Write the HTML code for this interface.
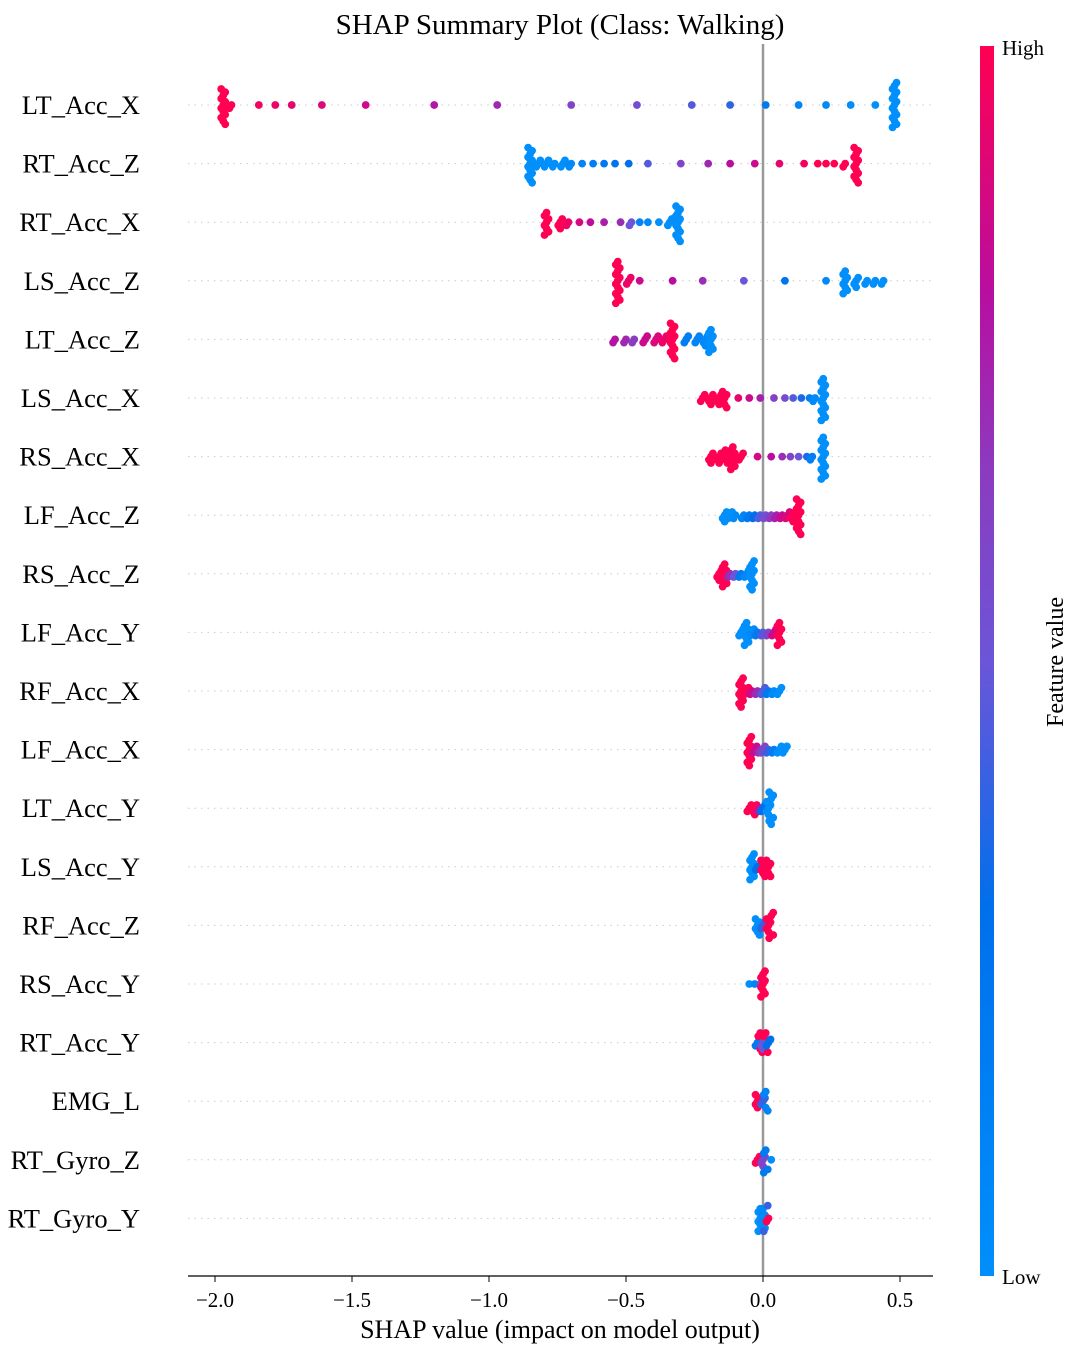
<!DOCTYPE html>
<html><head><meta charset="utf-8"><style>
html,body{margin:0;padding:0;background:#fff;}
svg{display:block;font-family:"Liberation Serif",serif;}
</style></head><body>
<svg id="chart" width="1075" height="1355" viewBox="0 0 1075 1355" xmlns="http://www.w3.org/2000/svg">
<defs>
<linearGradient id="cbar" x1="0" y1="1" x2="0" y2="0">
<stop offset="0" stop-color="#008ffb"/><stop offset="0.3" stop-color="#006fec"/>
<stop offset="0.5" stop-color="#6c55d8"/><stop offset="0.65" stop-color="#8a3cc0"/>
<stop offset="0.8" stop-color="#b80ea0"/><stop offset="1" stop-color="#ff0052"/>
</linearGradient>
</defs>
<text x="560" y="34" font-size="29" text-anchor="middle">SHAP Summary Plot (Class: Walking)</text>
<g id="grid"></g>
<line x1="763" y1="44" x2="763" y2="1276" stroke="#999" stroke-width="2.5"/>
<g id="dots"></g>
<g id="labels"></g>
<line x1="188" y1="1276" x2="933" y2="1276" stroke="#000" stroke-width="1.3"/>
<g id="xticks"></g>
<text x="560" y="1338" font-size="26" text-anchor="middle">SHAP value (impact on model output)</text>
<rect x="980" y="46" width="14" height="1230" fill="url(#cbar)"/>
<text x="1002" y="55" font-size="21">High</text>
<text x="1002" y="1284" font-size="21">Low</text>
<text transform="translate(1063,662) rotate(-90)" font-size="24" text-anchor="middle">Feature value</text>
</svg>
<script>
const features = ["LT_Acc_X","RT_Acc_Z","RT_Acc_X","LS_Acc_Z","LT_Acc_Z","LS_Acc_X","RS_Acc_X","LF_Acc_Z","RS_Acc_Z","LF_Acc_Y","RF_Acc_X","LF_Acc_X","LT_Acc_Y","LS_Acc_Y","RF_Acc_Z","RS_Acc_Y","RT_Acc_Y","EMG_L","RT_Gyro_Z","RT_Gyro_Y"];
// points: [shap, featureValue(0..1), count]
const shapLT_Acc_X = [[-1.97,1,12],[-1.94,1,2],[-1.84,0.96,1],[-1.78,0.94,1],[-1.72,0.92,1],[-1.61,0.9,1],[-1.45,0.86,1],[-1.2,0.78,1],[-0.97,0.72,1],[-0.7,0.6,1],[-0.46,0.55,1],[-0.26,0.45,1],[-0.12,0.38,1],[0.01,0.2,1],[0.13,0.1,1],[0.23,0.05,1],[0.32,0.03,1],[0.41,0,1],[0.48,0,15]];
const shapRT_Acc_Z = [[-0.85,0,12],[-0.82,0,3],[-0.79,0,3],[-0.76,0,2],[-0.73,0,3],[-0.7,0.05,2],[-0.66,0.1,1],[-0.62,0.15,1],[-0.58,0.2,1],[-0.54,0.25,1],[-0.49,0.3,1],[-0.42,0.45,1],[-0.3,0.6,1],[-0.2,0.72,1],[-0.12,0.8,1],[-0.03,0.85,1],[0.06,0.92,1],[0.15,0.97,1],[0.2,1,1],[0.23,1,1],[0.26,1,1],[0.3,1,2],[0.34,1,12]];
const shapRT_Acc_X = [[-0.79,1,8],[-0.74,1,4],[-0.71,0.95,2],[-0.67,0.88,1],[-0.63,0.82,1],[-0.58,0.75,1],[-0.52,0.7,1],[-0.48,0.5,2],[-0.45,0.1,1],[-0.42,0.05,1],[-0.38,0,1],[-0.34,0,3],[-0.31,0,12]];
const shapLS_Acc_Z = [[-0.53,1,14],[-0.49,0.95,3],[-0.45,0.85,1],[-0.33,0.8,1],[-0.22,0.7,1],[-0.07,0.5,1],[0.08,0.25,1],[0.23,0.05,1],[0.3,0,8],[0.34,0,4],[0.38,0,2],[0.41,0,2],[0.44,0,2]];
const shapLT_Acc_Z = [[-0.54,0.78,2],[-0.5,0.72,2],[-0.47,0.65,2],[-0.43,0.85,3],[-0.39,0.9,3],[-0.36,0.95,3],[-0.33,1,12],[-0.28,0.15,3],[-0.24,0.1,3],[-0.21,0.05,4],[-0.19,0,8]];
const shapLS_Acc_X = [[-0.22,1,3],[-0.19,1,4],[-0.16,1,4],[-0.14,1,6],[-0.09,0.92,1],[-0.05,0.85,1],[-0.01,0.75,1],[0.04,0.62,1],[0.08,0.55,1],[0.11,0.45,1],[0.14,0.35,1],[0.17,0.15,1],[0.19,0.05,2],[0.22,0,14]];
const shapRS_Acc_X = [[-0.19,1,4],[-0.16,1,4],[-0.13,1,5],[-0.11,1,8],[-0.08,1,3],[-0.02,0.88,1],[0.03,0.8,1],[0.07,0.7,1],[0.1,0.6,1],[0.13,0.5,1],[0.16,0.35,1],[0.18,0.15,2],[0.22,0,14]];
const shapLF_Acc_Z = [[-0.14,0,4],[-0.12,0,3],[-0.1,0.05,2],[-0.07,0.1,2],[-0.05,0.2,2],[-0.03,0.3,2],[-0.01,0.45,2],[0.01,0.55,2],[0.03,0.65,2],[0.05,0.75,2],[0.07,0.85,2],[0.09,0.9,3],[0.11,1,4],[0.13,1,12]];
const shapRS_Acc_Z = [[-0.16,1,4],[-0.14,1,8],[-0.12,0.7,2],[-0.1,0.5,2],[-0.08,0.2,2],[-0.06,0.05,3],[-0.04,0,10]];
const shapLF_Acc_Y = [[-0.08,0,3],[-0.06,0,8],[-0.04,0.05,3],[-0.02,0.2,2],[0.0,0.45,2],[0.02,0.6,2],[0.04,0.85,3],[0.06,1,8]];
const shapRF_Acc_X = [[-0.08,1,10],[-0.06,1,3],[-0.04,0.85,2],[-0.02,0.7,2],[0.0,0.45,3],[0.02,0.2,2],[0.04,0.05,2],[0.06,0,3]];
const shapLF_Acc_X = [[-0.05,1,10],[-0.03,0.85,3],[-0.01,0.7,2],[0.0,0.6,3],[0.02,0.4,2],[0.04,0.15,2],[0.06,0,3],[0.08,0,3]];
const shapLT_Acc_Y = [[-0.05,1,3],[-0.03,1,4],[-0.01,0.75,2],[0.0,0.3,3],[0.02,0,5],[0.03,0,6]];
const shapLS_Acc_Y = [[-0.04,0,9],[-0.02,0.3,2],[0.0,1,6],[0.02,1,6]];
const shapRF_Acc_Z = [[-0.02,0,6],[0.0,0.4,3],[0.02,1,5],[0.03,1,4]];
const shapRS_Acc_Y = [[-0.05,0,1],[-0.03,0.1,1],[-0.01,0.5,1],[0.0,1,9]];
const shapRT_Acc_Y = [[-0.02,0.2,3],[-0.01,1,4],[0.0,0.5,4],[0.01,1,3],[0.02,0.3,3]];
const shapEMG_L = [[-0.02,1,5],[0.0,0.4,3],[0.01,0.1,4]];
const shapRT_Gyro_Z = [[-0.02,1,3],[0.0,0.6,4],[0.01,0.2,4],[0.03,0,1]];
const shapRT_Gyro_Y = [[-0.01,0,8],[0.0,0.05,7],[0.01,0.4,2],[0.02,1,2]];
const series = [shapLT_Acc_X,shapRT_Acc_Z,shapRT_Acc_X,shapLS_Acc_Z,shapLT_Acc_Z,shapLS_Acc_X,shapRS_Acc_X,shapLF_Acc_Z,shapRS_Acc_Z,shapLF_Acc_Y,shapRF_Acc_X,shapLF_Acc_X,shapLT_Acc_Y,shapLS_Acc_Y,shapRF_Acc_Z,shapRS_Acc_Y,shapRT_Acc_Y,shapEMG_L,shapRT_Gyro_Z,shapRT_Gyro_Y];
const xTicks = [-2.0,-1.5,-1.0,-0.5,0.0,0.5];
const xTickLabels = ["\u22122.0","\u22121.5","\u22121.0","\u22120.5","0.0","0.5"];

const NS="http://www.w3.org/2000/svg";
const xScale = v => 763 + v*274;
const yScale = i => 105 + i*58.6;
const stops=[[0,[0,143,251]],[0.3,[0,111,236]],[0.5,[108,85,216]],[0.65,[138,60,192]],[0.8,[184,14,160]],[1,[255,0,82]]];
function color(t){for(let k=1;k<stops.length;k++){if(t<=stops[k][0]){const a=stops[k-1],b=stops[k],f=(t-a[0])/(b[0]-a[0]);const c=a[1].map((x,j)=>Math.round(x+(b[1][j]-x)*f));return `rgb(${c})`;}}return "rgb(255,0,82)";}
function mk(tag,attrs,parent){const e=document.createElementNS(NS,tag);for(const k in attrs)e.setAttribute(k,attrs[k]);parent.appendChild(e);return e;}
const grid=document.getElementById('grid'),dots=document.getElementById('dots'),labels=document.getElementById('labels'),xt=document.getElementById('xticks');
features.forEach((f,i)=>{
  const y=yScale(i);
  const g=mk('line',{x1:188,x2:933,y1:y,y2:y,stroke:'#ccc','stroke-width':1,'stroke-dasharray':'1.5 5'},grid);
  
  
  const t=mk('text',{x:140,y:y+9,'font-size':26.5,'text-anchor':'end'},labels);
  t.textContent=f;
  
  
  const bins={};
  const grp=mk('g',{},dots);
  
  
  series[i].forEach(p=>{
    const px=xScale(p[0]);const b=Math.round(px/5);
    for(let n=0;n<p[2];n++){
      const j=bins[b]||0;bins[b]=j+1;
      const off=(j===0?0:(j%2?1:-1)*Math.ceil(j/2))*3.2;
      const dx=(j%3===1?-2:(j%3===2?2:0));
      const c=mk('circle',{cx:px+dx,cy:y+off,r:3.9,fill:color(p[1])},grp);
      
      
    }
  });
});
xTicks.forEach((v,k)=>{
  const x=xScale(v);
  const l=mk('line',{x1:x,x2:x,y1:1276,y2:1282,stroke:'#000','stroke-width':1},xt);
  
  
  const t=mk('text',{x:x,y:1307,'font-size':21,'text-anchor':'middle'},xt);
  t.textContent=xTickLabels[k];
  
  
});
</script>
</body></html>
